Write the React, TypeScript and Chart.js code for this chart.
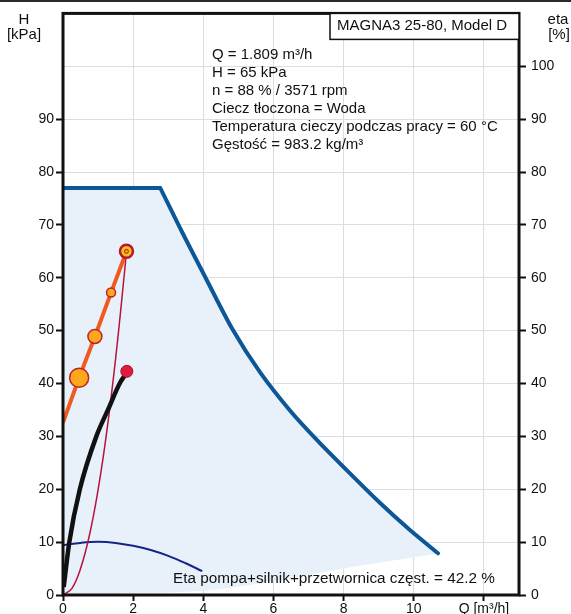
import React, { useEffect, useRef } from "react";
import { Chart, registerables } from "chart.js";

Chart.register(...registerables);

// Max QH curve (envelope top)
const qMax = [0, 2.75, 2.77, 3.39, 4.05, 4.82, 5.62, 6.47, 7.27, 8.18, 9.04, 9.89, 10.69];
const hMax = [77.0, 77.0, 77.0, 68.7, 60.2, 50.4, 42.1, 34.9, 29.1, 23.0, 17.4, 12.3, 7.9];
// Lower boundary of the shaded operating area
const qMin = [0, 4, 6, 8, 9.5, 10.69];
const hMin = [0, 0.8, 2.6, 5.0, 6.6, 7.9];
// System / control line with duty points
const sysQ = [0, 0.46, 0.91, 1.37, 1.809];
const sysH = [32.6, 41.1, 48.9, 57.2, 65];
const sysRadius = [0, 9.5, 7, 4.5, 0];
// Thin crimson line (system curve through duty point)
const parQ = [0, 0.25, 0.5, 0.75, 1.0, 1.25, 1.5, 1.75, 1.809];
const parH = [0, 1.2, 5, 11.2, 19.9, 31, 44.7, 60.8, 65];
// Efficiency (black)
const etaQ = [0.02, 0.18, 0.48, 0.95, 1.28, 1.63, 1.75];
const etaV = [1.5, 10, 20, 30, 35, 40.2, 41.4];
const etaDutyQ = [1.82];
const etaDutyV = [42.3];
// Navy curve
const navQ = [0, 0.5, 1.0, 1.5, 2, 2.5, 3, 3.5, 3.97];
const navH = [9.4, 9.85, 10.05, 9.85, 9.3, 8.5, 7.4, 6.0, 4.5];
// Duty point
const dutyQ = [1.809];
const dutyH = [65];

const xTicks = [0, 2, 4, 6, 8, 10, 12];
const xTickLabels = ["0", "2", "4", "6", "8", "10", "Q [m³/h]"];
const yTicks = [0, 10, 20, 30, 40, 50, 60, 70, 80, 90, 100];
const y2Ticks = [0, 10, 20, 30, 40, 50, 60, 70, 80, 90, 100];

const titleBox = "MAGNA3 25-80, Model D";
const infoLines = [
  "Q = 1.809 m³/h",
  "H = 65 kPa",
  "n = 88 % / 3571 rpm",
  "Ciecz tłoczona = Woda",
  "Temperatura cieczy podczas pracy = 60 °C",
  "Gęstość = 983.2 kg/m³",
];
const etaText = "Eta pompa+silnik+przetwornica częst. = 42.2 %";

const pts = (xs: number[], ys: number[]) => xs.map((x, i) => ({ x, y: ys[i] }));

const FONT = '"Liberation Sans", Arial, sans-serif';

export default function App() {
  const ref = useRef<HTMLCanvasElement>(null);
  useEffect(() => {
    document.body.style.margin = "0";
    const canvas = ref.current!;
    const textPlugin = {
      id: "texts",
      afterDraw(chart: any) {
        const ctx = chart.ctx;
        const a = chart.chartArea;
        ctx.save();
        // top dark strip
        ctx.fillStyle = "#2a2a2a";
        ctx.fillRect(0, 0, chart.width, 2);
        // frame
        ctx.strokeStyle = "#111";
        ctx.lineWidth = 3;
        ctx.strokeRect(a.left, a.top, a.right - a.left, a.bottom - a.top);
        // title box
        ctx.fillStyle = "#fff";
        ctx.fillRect(330, a.top, a.right - 330, 26);
        ctx.lineWidth = 1.5;
        ctx.strokeRect(330, a.top, a.right - 330, 26);
        ctx.fillStyle = "#111";
        ctx.textBaseline = "middle";
        ctx.textAlign = "left";
        ctx.font = `15px ${FONT}`;
        ctx.fillText(titleBox, 337, a.top + 12);
        infoLines.forEach((t, i) => ctx.fillText(t, 212, 55 + i * 18));
        ctx.font = `15.3px ${FONT}`;
        ctx.fillText(etaText, 173, 579);
        // axis titles
        ctx.font = `15px ${FONT}`;
        ctx.textAlign = "center";
        ctx.fillText("H", 24, 20);
        ctx.fillText("[kPa]", 24, 35);
        ctx.fillText("eta", 558, 20);
        ctx.fillText("[%]", 559, 35);
        ctx.restore();
      },
    };

    const chart = new Chart(canvas, {
      type: "line",
      data: {
        datasets: [
          {
            data: pts(qMax, hMax),
            borderColor: "#0b5797",
            borderWidth: 4,
            pointRadius: 0,
            tension: 0.25,
            fill: { target: 1 },
            backgroundColor: "#e8f1f9",
            order: 10,
            borderJoinStyle: "round",
            borderCapStyle: "round",
          } as any,
          {
            data: pts(qMin, hMin),
            borderWidth: 0,
            borderColor: "transparent",
            pointRadius: 0,
            tension: 0.3,
            fill: false,
            order: 11,
          },
          {
            data: pts(navQ, navH),
            borderColor: "#16248a",
            borderWidth: 2,
            pointRadius: 0,
            tension: 0.4,
            fill: false,
            order: 9,
          },
          {
            data: pts(parQ, parH),
            borderColor: "#b5123f",
            borderWidth: 1.5,
            pointRadius: 0,
            tension: 0.4,
            fill: false,
            order: 8,
          },
          {
            data: pts(etaQ, etaV),
            borderColor: "#111",
            borderWidth: 4.5,
            pointRadius: 0,
            cubicInterpolationMode: "monotone",
            fill: false,
            order: 7,
          },
          {
            data: pts(etaDutyQ, etaDutyV),
            showLine: false,
            pointRadius: 6,
            pointBackgroundColor: "#e01c3c",
            pointBorderColor: "#a8102a",
            pointBorderWidth: 1,
            order: 6,
          },
          {
            data: pts(sysQ, sysH),
            borderColor: "#ef5a22",
            borderWidth: 4,
            pointRadius: sysRadius,
            pointBackgroundColor: "#fca81d",
            pointBorderColor: "#c2212b",
            pointBorderWidth: 1.5,
            fill: false,
            order: 5,
          },
          {
            data: pts(dutyQ, dutyH),
            showLine: false,
            pointRadius: 6.5,
            pointBackgroundColor: "#f6c21c",
            pointBorderColor: "#b8172e",
            pointBorderWidth: 2.5,
            order: 4,
          },
          {
            data: pts(dutyQ, dutyH),
            showLine: false,
            pointRadius: 2,
            pointBackgroundColor: "#f3a21e",
            pointBorderColor: "#b8172e",
            pointBorderWidth: 1,
            order: 3,
          },
        ],
      },
      options: {
        animation: false,
        responsive: false,
        devicePixelRatio: 1,
        layout: { padding: { top: 12, left: 0, right: 0, bottom: 0 } },
        plugins: { legend: { display: false }, tooltip: { enabled: false } },
        scales: {
          x: {
            type: "linear",
            min: 0,
            max: 13,
            afterBuildTicks: (s: any) => {
              s.ticks = xTicks.map((v) => ({ value: v }));
            },
            afterFit: (s: any) => {
              s.height = 19;
            },
            ticks: {
              color: "#111",
              font: { family: FONT, size: 14 },
              padding: 0,
              maxRotation: 0,
              autoSkip: false,
              callback: (v: any) => xTickLabels[xTicks.indexOf(Number(v))] ?? "",
            },
            grid: {
              color: "#d9dde4",
              lineWidth: 1,
              tickLength: 6,
              tickColor: "#111",
              tickWidth: 2,
            },
            border: { display: false },
          },
          y: {
            type: "linear",
            min: 0,
            max: 110,
            afterBuildTicks: (s: any) => {
              s.ticks = yTicks.map((v) => ({ value: v }));
            },
            afterFit: (s: any) => {
              s.width = 63;
            },
            ticks: {
              color: "#111",
              font: { family: FONT, size: 14 },
              padding: 2,
              callback: (v: any) => (Number(v) >= 100 ? "" : String(v)),
            },
            grid: {
              color: "#d9dde4",
              lineWidth: 1,
              tickLength: 7,
              tickColor: (c: any) => (c.tick && c.tick.value >= 100 ? "rgba(0,0,0,0)" : "#111"),
              tickWidth: 2,
            },
            border: { display: false },
          },
          y2: {
            type: "linear",
            position: "right",
            min: 0,
            max: 110,
            afterBuildTicks: (s: any) => {
              s.ticks = y2Ticks.map((v) => ({ value: v }));
            },
            afterFit: (s: any) => {
              s.width = 52;
            },
            ticks: {
              color: "#111",
              font: { family: FONT, size: 14 },
              padding: 5,
            },
            grid: {
              drawOnChartArea: false,
              tickLength: 7,
              tickColor: "#111",
              tickWidth: 2,
            },
            border: { display: false },
          },
        },
      },
      plugins: [textPlugin],
    } as any);
    return () => chart.destroy();
  }, []);
  return (
    <div style={{ width: 571, height: 614 }}>
      <canvas ref={ref} width={571} height={614} style={{ display: "block" }} />
    </div>
  );
}
